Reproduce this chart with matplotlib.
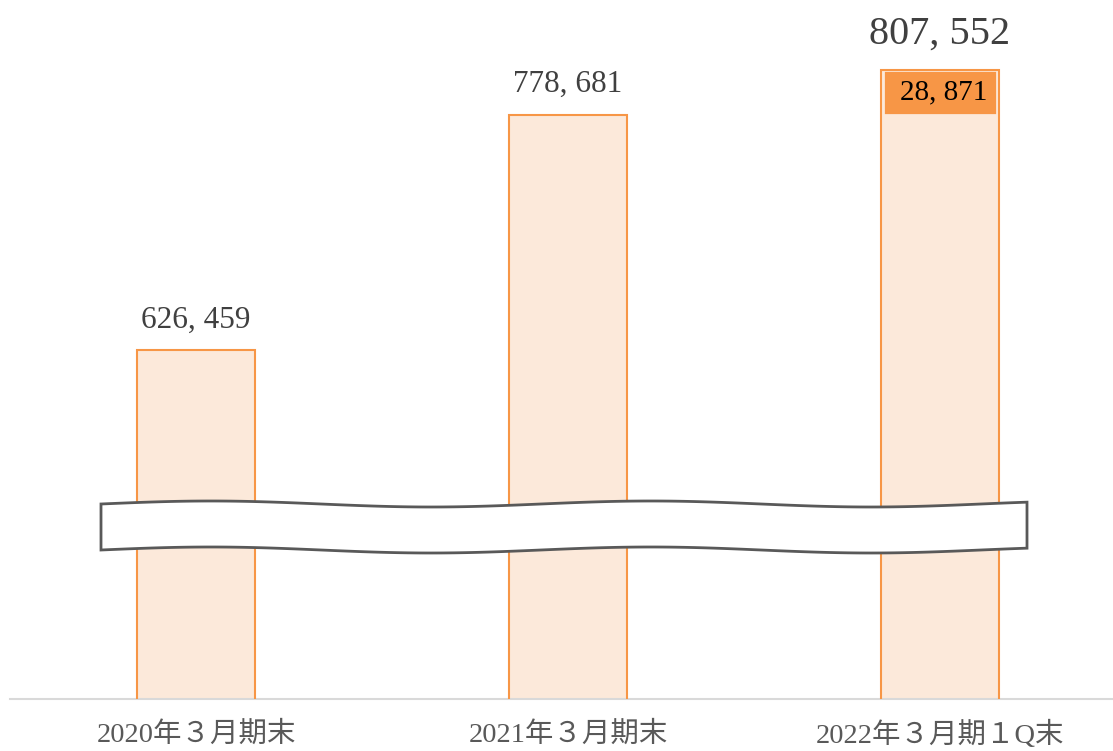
import numpy as np
import matplotlib
matplotlib.use("Agg")
import matplotlib.pyplot as plt
from matplotlib.patches import Polygon

categories = ["2020年３月期末", "2021年３月期末", "2022年３月期１Q末"]
values = [626459, 778681, 807552]
value_labels = ["626, 459", "778, 681", "807, 552"]
increment = 28871
increment_label = "28, 871"

W, H = 1113, 751
fig = plt.figure(figsize=(W / 100, H / 100), dpi=100)
ax = fig.add_axes([10 / W, (H - 699) / H, 1 - 10 / W, 699 / H])

fill_c = "#FCE9DA"
edge_c = "#F79646"
x = np.arange(len(categories))
bw = 0.315

ax.bar(x, values, width=bw, color=fill_c, edgecolor="none", zorder=2)
# increment box on last bar
ax.bar(x[-1], increment, bottom=values[-2], width=bw - 0.01, color=edge_c,
       edgecolor=fill_c, linewidth=2.0, zorder=3)
ax.bar(x, values, width=bw, fill=False, edgecolor=edge_c, linewidth=1.5, zorder=4)

ax.set_xlim(-0.5, 2.465)
ax.set_ylim(400700, 852800)

for spine in ["top", "right", "left"]:
    ax.spines[spine].set_visible(False)
ax.spines["bottom"].set_color("#D9D9D9")
ax.spines["bottom"].set_linewidth(1.5)
ax.set_yticks([])
ax.set_xticks(x)
ax.set_xticklabels(categories, fontsize=20.5, color="#595959",
                   family=["Liberation Serif", "Noto Sans CJK JP"])
ax.tick_params(axis="x", length=0, pad=16)

serif = ["Liberation Serif", "DejaVu Serif"]
for i in range(2):
    ax.annotate(value_labels[i], (x[i], values[i]), xytext=(0, 21.5),
                textcoords="offset points", ha="center", va="center",
                fontsize=22.5, color="#404040", family=serif, zorder=5)
ax.annotate(value_labels[2], (x[2], values[2]), xytext=(0, 26),
            textcoords="offset points", ha="center", va="center",
            fontsize=29, color="#404040", family=serif, zorder=5)
ax.text(x[2] + 0.01, values[1] + increment / 2, increment_label, ha="center",
        va="center", fontsize=21, color="#000000", family=serif, zorder=5)

# axis-break wave band (figure pixel coordinates)
xs = np.linspace(101, 1027, 300)
top = 504 - 3 * np.sin(2 * np.pi * (xs - 101) / 440)
bot = top + 46
pts = np.concatenate([np.column_stack([xs, top]), np.column_stack([xs[::-1], bot[::-1]])])
pts_fig = np.column_stack([pts[:, 0] / W, 1 - pts[:, 1] / H])
band = Polygon(pts_fig, closed=True, facecolor="white", edgecolor="#595959",
               linewidth=2, transform=fig.transFigure, zorder=10)
fig.patches.append(band)

fig.savefig("out.png", dpi=100, facecolor="white")
